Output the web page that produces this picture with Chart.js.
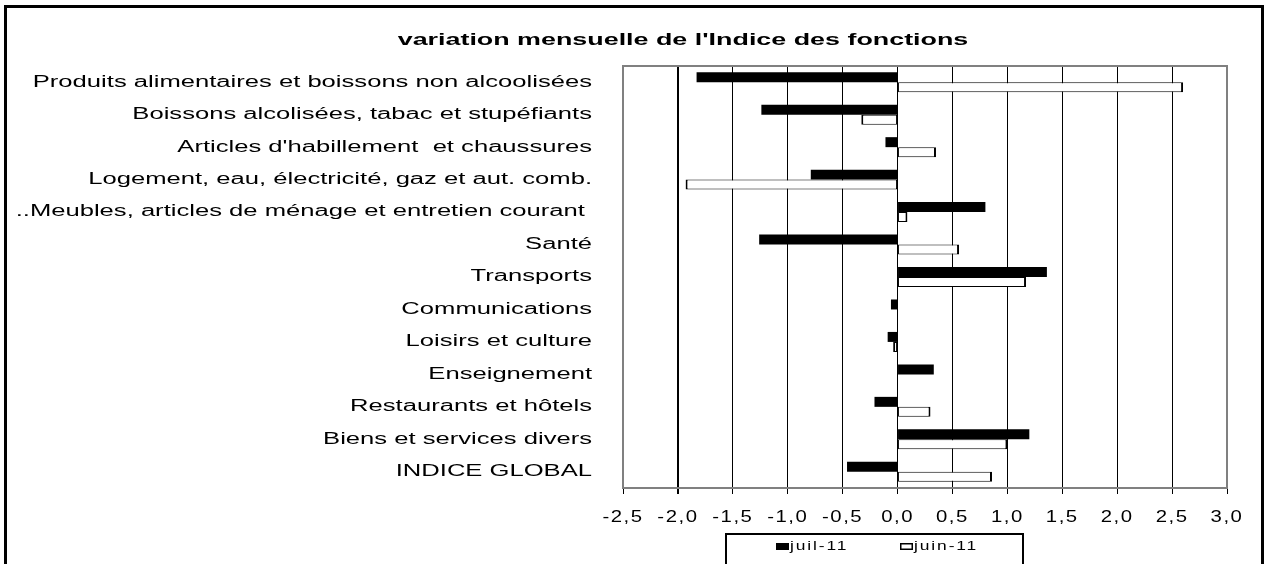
<!DOCTYPE html>
<html><head><meta charset="utf-8">
<script src="https://cdn.jsdelivr.net/npm/chart.js@4/dist/chart.umd.min.js"></script>
<style>html,body{margin:0;padding:0;background:#fff;} canvas{display:block;}</style>
</head><body>
<canvas id="c" width="1265" height="564"></canvas>
<script>
const chartTitle = "variation mensuelle de l'Indice des fonctions";
const categories = [
  "Produits alimentaires et boissons non alcoolisées",
  "Boissons alcolisées, tabac et stupéfiants",
  "Articles d'habillement  et chaussures",
  "Logement, eau, électricité, gaz et aut. comb.",
  "..Meubles, articles de ménage et entretien courant ",
  "Santé",
  "Transports",
  "Communications",
  "Loisirs et culture",
  "Enseignement",
  "Restaurants et hôtels",
  "Biens et services divers",
  "INDICE GLOBAL"
];
const seriesNames = ["juil-11", "juin-11"];
const juil = [-1.83, -1.24, -0.11, -0.79, 0.80, -1.26, 1.36, -0.06, -0.09, 0.33, -0.21, 1.20, -0.46];
const juin = [2.60, -0.33, 0.35, -1.93, 0.09, 0.56, 1.17, 0, -0.04, 0, 0.30, 1.00, 0.86];
const xTicks = [-2.5, -2.0, -1.5, -1.0, -0.5, 0.0, 0.5, 1.0, 1.5, 2.0, 2.5, 3.0];
const xTickLabels = ["-2,5", "-2,0", "-1,5", "-1,0", "-0,5", "0,0", "0,5", "1,0", "1,5", "2,0", "2,5", "3,0"];

const FONT = '"Liberation Sans", Arial, sans-serif';
// horizontal stretch + letter spacing (the reference text is stretched wide)
const TXT = { x: { sx: 1.27, ls: 1.2 }, y: { sx: 1.6, ls: 0 } };

function stretchedText(ctx, text, x, y, sx, ls, align) {
  ctx.save();
  ctx.letterSpacing = ls + 'px';
  const w = (ctx.measureText(text).width - ls) * sx;
  let left = x;
  if (align === 'center') left = x - w / 2;
  else if (align === 'right') left = x - w;
  ctx.translate(left, y);
  ctx.scale(sx, 1);
  ctx.textAlign = 'left';
  ctx.fillText(text, 0, 0);
  ctx.restore();
}

const decor = {
  id: 'decor',
  afterLayout(chart) {
    for (const id of ['x', 'y']) {
      const s = chart.scales[id];
      if (s && !s.__ls) {
        const orig = s.drawLabels;
        const cfg = TXT[id];
        s.drawLabels = function (area) {
          const c = chart.ctx;
          const origRot = CanvasRenderingContext2D.prototype.rotate;
          c.save();
          c.letterSpacing = cfg.ls + 'px';
          c.rotate = function (a) { origRot.call(this, a); this.scale(cfg.sx, 1); };
          try { orig.call(this, area); } finally { delete c.rotate; c.restore(); }
        };
        s.__ls = true;
      }
    }
  },
  beforeDatasetsDraw(chart) {
    const { ctx, chartArea: a } = chart;
    ctx.save();
    ctx.strokeStyle = '#808080'; ctx.lineWidth = 2;
    ctx.strokeRect(a.left, a.top, a.right - a.left, a.bottom - a.top);
    ctx.restore();
  },
  afterDraw(chart) {
    const ctx = chart.ctx;
    ctx.save();
    ctx.strokeStyle = '#000'; ctx.lineWidth = 3;
    ctx.strokeRect(5.5, 6.5, 1257, 620);
    // title
    ctx.font = 'bold 17px ' + FONT;
    ctx.fillStyle = '#000'; ctx.textBaseline = 'middle';
    stretchedText(ctx, chartTitle, 683, 40, 1.58, 0, 'center');
    // legend box
    ctx.lineWidth = 2; ctx.strokeStyle = '#000';
    ctx.strokeRect(726, 534, 297, 60);
    ctx.font = '12px ' + FONT;
    chart.data.datasets.forEach((ds, i) => {
      const x = 776 + i * 124, y = 543;
      ctx.fillStyle = ds.backgroundColor;
      ctx.fillRect(x, y, 13, 7);
      if (ds.backgroundColor !== '#000000') {
        ctx.lineWidth = 1.5; ctx.strokeStyle = '#000';
        ctx.strokeRect(x + 0.75, y + 0.75, 11.5, 5.5);
      }
      ctx.fillStyle = '#000';
      stretchedText(ctx, ds.label, x + 14, 546.5, 1.45, 1.3, 'left');
    });
    ctx.restore();
  }
};

new Chart(document.getElementById('c'), {
  type: 'bar',
  data: {
    labels: categories,
    datasets: [
      { label: seriesNames[0], data: juil, backgroundColor: '#000000', borderWidth: 0 },
      { label: seriesNames[1], data: juin, backgroundColor: '#ffffff', borderColor: '#000000',
        borderSkipped: false,
        borderWidth: (c) => {
          const v = c.raw;
          if (!v) return 0;
          return v >= 0 ? { top: 1, bottom: 1, left: 1, right: 2 } : { top: 1, bottom: 1, left: 2, right: 1 };
        } }
    ]
  },
  options: {
    indexAxis: 'y',
    responsive: false,
    animation: false,
    layout: { padding: { top: 66, right: 38, left: 0, bottom: 0 } },
    datasets: { bar: { categoryPercentage: 0.615, barPercentage: 1.0 } },
    plugins: { legend: { display: false }, title: { display: false }, tooltip: { enabled: false } },
    scales: {
      x: {
        min: -2.5, max: 3.0,
        afterBuildTicks: (s) => { s.ticks = xTicks.map(v => ({ value: v })); },
        afterFit: (s) => { s.height = 76; },
        grid: {
          color: '#000', tickColor: '#000', tickLength: 6,
          lineWidth: (c) => (c.tick && c.tick.value === -2 ? 2 : 1)
        },
        border: { display: false },
        ticks: {
          color: '#000', padding: 14, maxRotation: 0, autoSkip: false,
          font: { family: FONT, size: 16 },
          callback: (v, i) => xTickLabels[i]
        }
      },
      y: {
        afterFit: (s) => { s.width = 623; },
        grid: { display: false, drawTicks: false },
        border: { display: false },
        ticks: { color: '#000', padding: 31, autoSkip: false, font: { family: FONT, size: 16 } }
      }
    }
  },
  plugins: [decor]
});
</script>
</body></html>
